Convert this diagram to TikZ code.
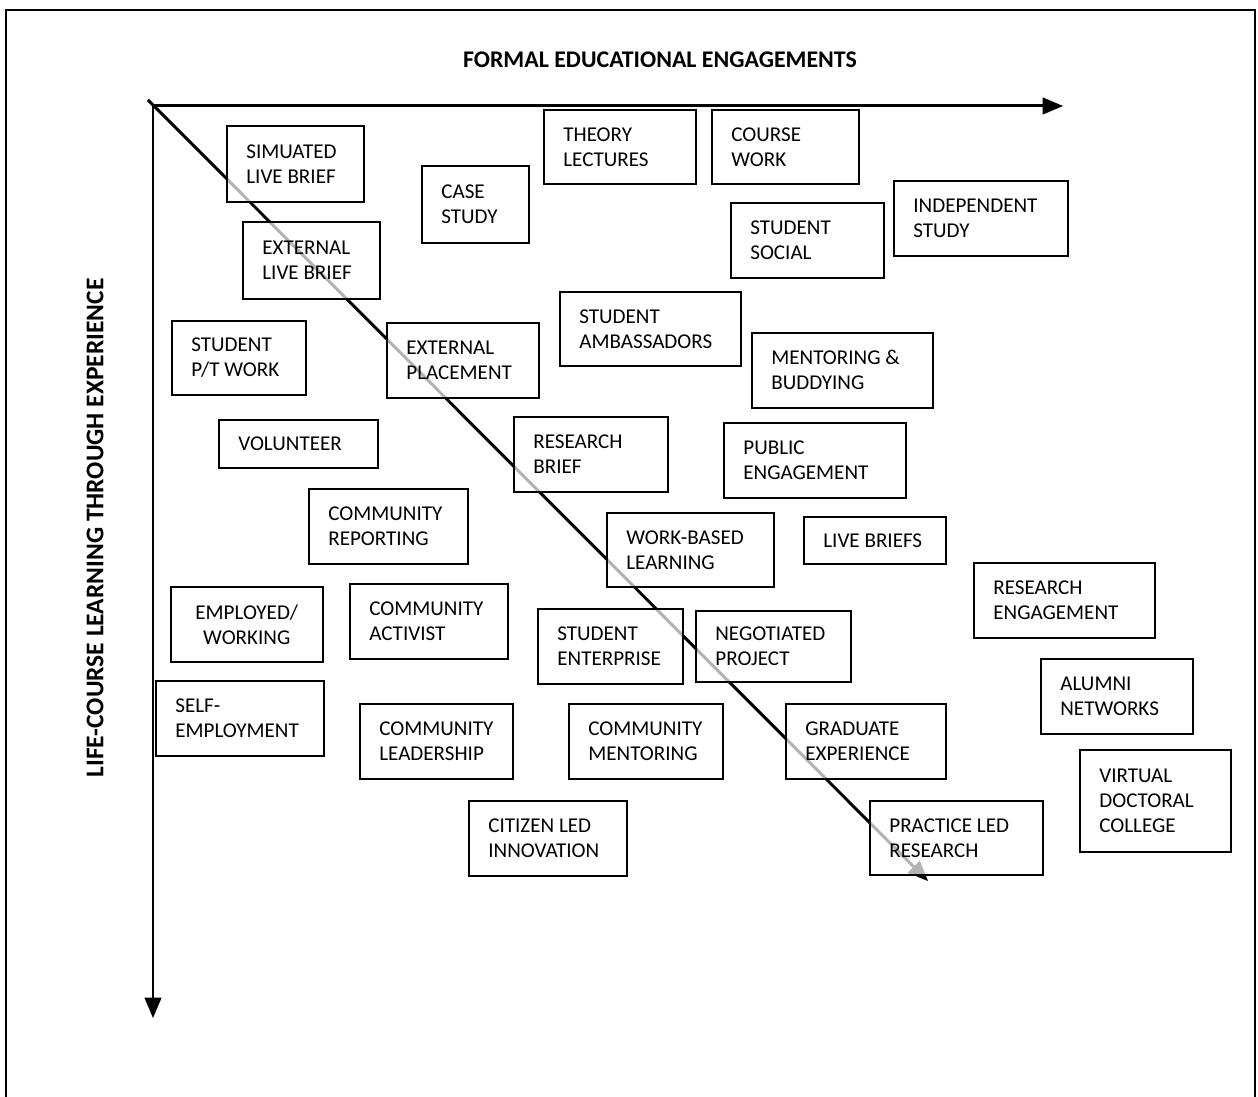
\documentclass[tikz,border=0pt]{standalone}
\usepackage{fontspec}
\setmainfont{Carlito}
\usetikzlibrary{arrows}

\tikzset{
  box/.style={draw, line width=0.9pt, fill=white, fill opacity=0.7, inner sep=0pt, anchor=north west},
  boxtext/.style={align=left, inner sep=0pt, font=\fontsize{12}{14.2}\selectfont},
  axis/.style={black, line width=1.7pt, ->, >=triangle 45},
  heading/.style={font=\bfseries\fontsize{13.6}{15}\selectfont, inner sep=0pt}
}

\begin{document}
\begin{tikzpicture}[x=0.02cm, y=-0.02cm]
\useasboundingbox (0,0) rectangle (1258,1097);
\draw[line width=0.8pt] (6,1097) -- (6,10) -- (1255,10) -- (1255,1097);

\coordinate (o) at (153,106);
\coordinate (xend) at (1063,106);
\coordinate (yend) at (153,1018);
\coordinate (dstart) at (148,100);
\coordinate (dend) at (928,881);

\node[heading] (formal) at (660,60) {FORMAL EDUCATIONAL ENGAGEMENTS};
\node[heading, font=\bfseries\fontsize{14.5}{16}\selectfont, rotate=90] (lifecourse) at (95,528) {LIFE-COURSE LEARNING THROUGH EXPERIENCE};

\draw[axis] (dstart) -- (dend);

\foreach \nm/\xa/\ya/\xb/\yb/\txt in {
  sim/226/125/363/201/{SIMUATED\\LIVE BRIEF},
  case/421/165/528/242/{CASE\\STUDY},
  theory/543/109/695/183/{THEORY\\LECTURES},
  course/711/109/858/183/{COURSE\\WORK},
  indep/893/180/1067/255/{INDEPENDENT\\STUDY},
  social/730/202/883/277/{STUDENT\\SOCIAL},
  extlive/242/221/379/298/{EXTERNAL\\LIVE BRIEF},
  amb/559/291/740/365/{STUDENT\\AMBASSADORS},
  ptwork/171/320/305/394/{STUDENT\\P/T WORK},
  place/386/322/538/397/{EXTERNAL\\PLACEMENT},
  mentor/751/332/932/407/{MENTORING \&\\BUDDYING},
  volun/218/419/377/467/{VOLUNTEER},
  resbrief/513/416/667/491/{RESEARCH\\BRIEF},
  public/723/422/905/497/{PUBLIC\\ENGAGEMENT},
  report/308/488/467/563/{COMMUNITY\\REPORTING},
  wbl/606/512/773/586/{WORK-BASED\\LEARNING},
  livebr/803/516/945/563/{LIVE BRIEFS},
  reseng/973/562/1154/637/{RESEARCH\\ENGAGEMENT},
  activ/349/583/507/658/{COMMUNITY\\ACTIVIST},
  enter/537/608/682/683/{STUDENT\\ENTERPRISE},
  negot/695/610/850/681/{NEGOTIATED\\PROJECT},
  alumni/1040/658/1192/733/{ALUMNI\\NETWORKS},
  self/155/680/323/755/{SELF-\\EMPLOYMENT},
  lead/359/703/512/778/{COMMUNITY\\LEADERSHIP},
  cmentor/568/703/722/778/{COMMUNITY\\MENTORING},
  grad/785/703/945/778/{GRADUATE\\EXPERIENCE},
  virtual/1079/749/1230/851/{VIRTUAL\\DOCTORAL\\COLLEGE},
  citizen/468/800/626/875/{CITIZEN LED\\INNOVATION},
  practice/869/800/1042/874/{PRACTICE LED\\RESEARCH}} {
 \node[box, minimum width={(\xb-\xa)*0.02cm}, minimum height={(\yb-\ya)*0.02cm}] (\nm) at (\xa,\ya) {};
 \node[boxtext, anchor=west] (\nm-t) at ([xshift=0.4cm]\nm.west) {\txt};
}
\node[box, minimum width=3.04cm, minimum height=1.5cm] (employed) at (170,586) {};
\node[boxtext, align=center] (employed-t) at (employed.center) {EMPLOYED/\\WORKING};

\draw[axis] (o) -- (xend);
\draw[axis] (o) -- (yend);
\end{tikzpicture}
\end{document}
